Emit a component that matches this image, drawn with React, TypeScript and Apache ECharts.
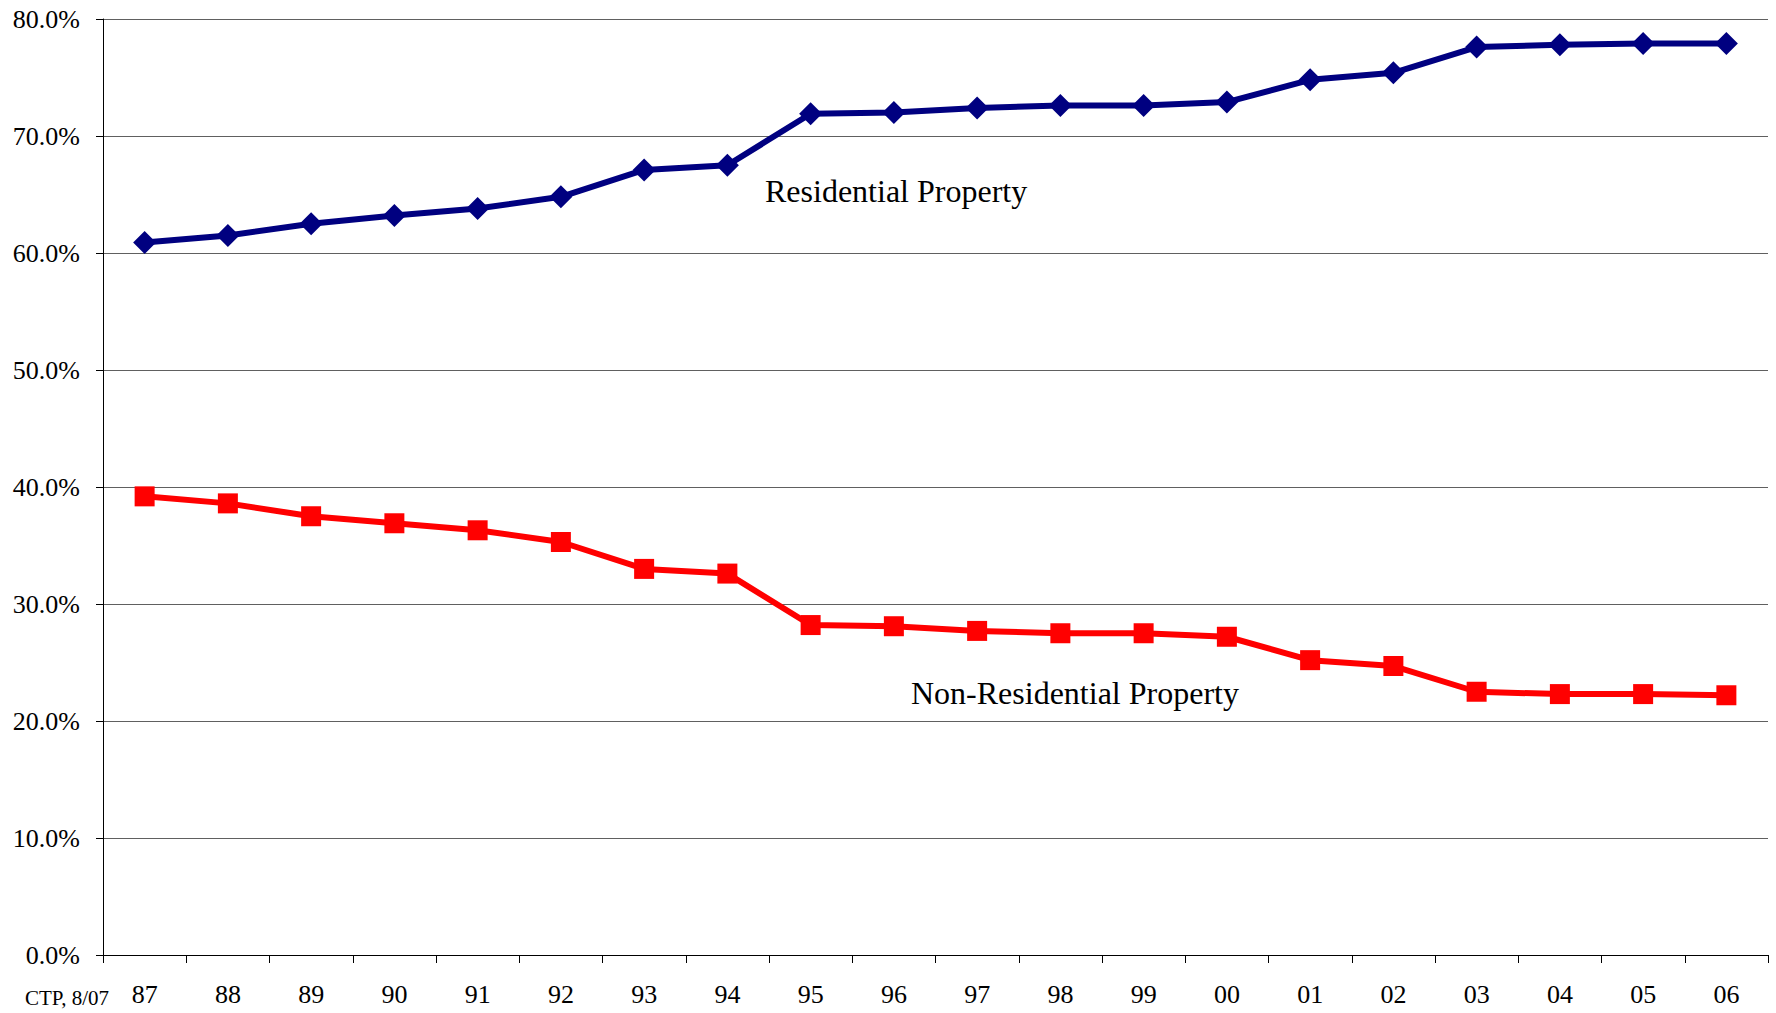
import React, { useEffect, useRef } from "react";
import * as echarts from "echarts";

// Fiscal years (two-digit) along the bottom axis
const years = ["87", "88", "89", "90", "91", "92", "93", "94", "95", "96", "97", "98", "99", "00", "01", "02", "03", "04", "05", "06"];

// Share of total assessed value, in percent
const residential = [60.9, 61.5, 62.5, 63.2, 63.8, 64.8, 67.1, 67.5, 71.9, 72.0, 72.4, 72.6, 72.6, 72.9, 74.8, 75.4, 77.6, 77.8, 77.9, 77.9];
const nonResidential = [39.2, 38.6, 37.5, 36.9, 36.3, 35.3, 33.0, 32.6, 28.2, 28.1, 27.7, 27.5, 27.5, 27.2, 25.2, 24.7, 22.5, 22.3, 22.3, 22.2];

// Value axis range
const yMin = 0;
const yMax = 80;
const yStep = 10;

const serif = "'Times New Roman', 'Liberation Serif', serif";

export default function App() {
  const ref = useRef<HTMLDivElement>(null);

  useEffect(() => {
    if (!ref.current) return;
    const chart = echarts.init(ref.current, null, { renderer: "svg" });
    chart.setOption({
      animation: false,
      backgroundColor: "#ffffff",
      grid: { left: 103, right: 8, top: 19, bottom: 58 },
      xAxis: {
        type: "category",
        data: years,
        boundaryGap: true,
        axisLine: { lineStyle: { color: "#000", width: 1 } },
        axisTick: { show: true, alignWithLabel: false, length: 8, lineStyle: { color: "#000" } },
        axisLabel: { color: "#000", fontFamily: serif, fontSize: 26, margin: 26 },
        splitLine: { show: false },
      },
      yAxis: {
        type: "value",
        min: yMin,
        max: yMax,
        interval: yStep,
        axisLine: { show: true, lineStyle: { color: "#000", width: 1 } },
        axisTick: { show: true, length: 7, lineStyle: { color: "#000" } },
        axisLabel: {
          color: "#000",
          fontFamily: serif,
          fontSize: 26,
          margin: 23,
          formatter: (v: number) => v.toFixed(1) + "%",
        },
        splitLine: { show: true, lineStyle: { color: "#606060", width: 1 } },
      },
      series: [
        {
          name: "Residential Property",
          type: "line",
          data: residential,
          symbol: "diamond",
          symbolSize: 23,
          showAllSymbol: true,
          lineStyle: { color: "#000080", width: 6 },
          itemStyle: { color: "#000080" },
        },
        {
          name: "Non-Residential Property",
          type: "line",
          data: nonResidential,
          symbol: "rect",
          symbolSize: 20,
          showAllSymbol: true,
          lineStyle: { color: "#ff0000", width: 6 },
          itemStyle: { color: "#ff0000" },
        },
      ],
      graphic: [
        {
          type: "text",
          left: 765,
          top: 175,
          style: { text: "Residential Property", fill: "#000", font: `32px ${serif}` },
        },
        {
          type: "text",
          left: 911,
          top: 677,
          style: { text: "Non-Residential Property", fill: "#000", font: `32px ${serif}` },
        },
        {
          type: "text",
          left: 25,
          top: 987,
          style: { text: "CTP, 8/07", fill: "#000", font: `21px ${serif}` },
        },
      ],
    });
    return () => chart.dispose();
  }, []);

  return (
    <div
      ref={ref}
      style={{ position: "fixed", left: 0, top: 0, width: 1776, height: 1013, background: "#fff" }}
    />
  );
}
